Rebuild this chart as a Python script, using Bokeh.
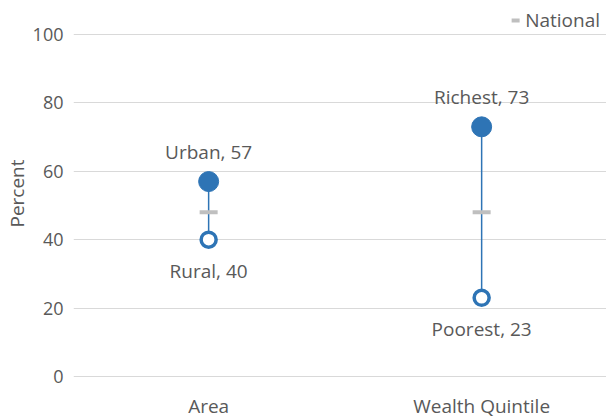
from bokeh.plotting import figure
from bokeh.models import FixedTicker, Range1d, Legend, LegendItem, ColumnDataSource
from bokeh.core.properties import value
from bokeh.embed import file_html
from bokeh.resources import INLINE

# ---- data ----
groups = ["Area", "Wealth Quintile"]
high_names = ["Urban", "Richest"]
high_values = [57, 73]
low_names = ["Rural", "Poorest"]
low_values = [40, 23]
national_values = [48, 48]
y_ticks = [0, 20, 40, 60, 80, 100]

BLUE = "#2E74B5"
GREY_TXT = "#595959"
FONT = "Open Sans"
FS = "19px"

xs = list(range(1, len(groups) + 1))
src = ColumnDataSource(dict(
    x=xs, hi=high_values, lo=low_values, nat=national_values,
    hi_label=[f"{n}, {v}" for n, v in zip(high_names, high_values)],
    lo_label=[f"{n}, {v}" for n, v in zip(low_names, low_values)],
))

p = figure(frame_width=534, frame_height=386, output_backend="svg", toolbar_location=None,
           x_range=Range1d(0.505, 2.461), y_range=Range1d(-2.93, 109.94),
           min_border_left=64, min_border_right=0, min_border_top=0, min_border_bottom=0)
p.outline_line_color = None
p.background_fill_color = "white"

p.xgrid.grid_line_color = None
p.ygrid.grid_line_color = "#D9D9D9"
p.ygrid.grid_line_width = 1

p.yaxis.ticker = FixedTicker(ticks=y_ticks)
p.xaxis.ticker = FixedTicker(ticks=xs)
p.xaxis.major_label_overrides = {x: g for x, g in zip(xs, groups)}
for ax in (p.xaxis, p.yaxis):
    ax.axis_line_color = None
    ax.major_tick_line_color = None
    ax.minor_tick_line_color = None
    ax.major_label_text_font = FONT
    ax.major_label_text_font_size = FS
    ax.major_label_text_color = GREY_TXT
p.yaxis.major_label_text_font_size = "18px"
p.yaxis.major_label_standoff = 4
p.xaxis.major_label_standoff = 0
p.yaxis.axis_label = "Percent"
p.yaxis.axis_label_text_font = FONT
p.yaxis.axis_label_text_font_size = FS
p.yaxis.axis_label_text_font_style = "normal"
p.yaxis.axis_label_text_color = GREY_TXT
p.yaxis.axis_label_standoff = 0

p.segment(x0="x", y0="lo", x1="x", y1="hi", source=src, line_color=BLUE, line_width=1.5)
nat = p.scatter(x="x", y="nat", source=src, marker="dash", size=18,
                line_color="#BFBFBF", line_width=4)
p.scatter(x="x", y="hi", source=src, marker="circle", size=20,
          fill_color=BLUE, line_color=BLUE, line_width=1)
p.scatter(x="x", y="lo", source=src, marker="circle", size=15,
          fill_color="white", line_color=BLUE, line_width=3.5)

p.text(x="x", y="hi", text="hi_label", source=src, y_offset=-30,
       text_align="center", text_baseline="middle",
       text_font=value(FONT), text_font_size=FS, text_color=GREY_TXT)
p.text(x="x", y="lo", text="lo_label", source=src, y_offset=31,
       text_align="center", text_baseline="middle",
       text_font=value(FONT), text_font_size=FS, text_color=GREY_TXT)

legend = Legend(items=[LegendItem(label="National", renderers=[nat])],
                location="top_right", border_line_color=None,
                background_fill_alpha=0, margin=7, padding=2,
                glyph_width=20, glyph_height=20, label_standoff=0,
                label_text_font=FONT, label_text_font_size=FS,
                label_text_color=GREY_TXT)
p.add_layout(legend)

open("out.html", "w").write(file_html(p, INLINE))
